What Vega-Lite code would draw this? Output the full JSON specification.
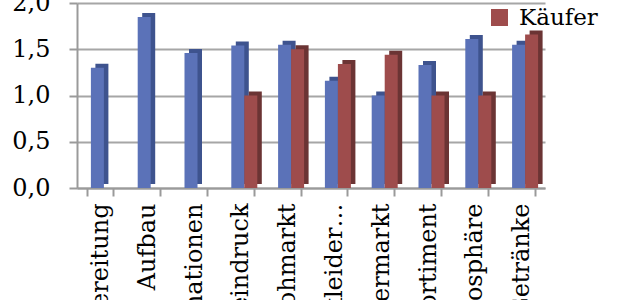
{
  "$schema": "https://vega.github.io/schema/vega-lite/v6.json",
  "width": 468,
  "height": 185,
  "autosize": {"type": "none"},
  "padding": {"left": 77, "top": 3, "right": 98, "bottom": 112},
  "background": "white",
  "config": {"view": {"stroke": null}, "font": "DejaVu Serif"},
  "data": {
    "values": [
      {"k": "Vorbereitung", "g": "Verkäufer", "v": 1.3},
      {"k": "Aufbau", "g": "Verkäufer", "v": 1.85},
      {"k": "Informationen", "g": "Verkäufer", "v": 1.46},
      {"k": "Gesamteindruck", "g": "Verkäufer", "v": 1.54},
      {"k": "Gesamteindruck", "g": "Käufer", "v": 1.0},
      {"k": "Flohmarkt", "g": "Verkäufer", "v": 1.55},
      {"k": "Flohmarkt", "g": "Käufer", "v": 1.5},
      {"k": "Kinderkleider…", "g": "Verkäufer", "v": 1.16},
      {"k": "Kinderkleider…", "g": "Käufer", "v": 1.34},
      {"k": "Supermarkt", "g": "Verkäufer", "v": 1.0},
      {"k": "Supermarkt", "g": "Käufer", "v": 1.44},
      {"k": "Sortiment", "g": "Verkäufer", "v": 1.33},
      {"k": "Sortiment", "g": "Käufer", "v": 1.0},
      {"k": "Atmosphäre", "g": "Verkäufer", "v": 1.61},
      {"k": "Atmosphäre", "g": "Käufer", "v": 1.0},
      {"k": "Getränke", "g": "Verkäufer", "v": 1.55},
      {"k": "Getränke", "g": "Käufer", "v": 1.66}
    ]
  },
  "encoding": {
    "x": {
      "field": "k",
      "type": "nominal",
      "sort": null,
      "title": null,
      "scale": {"paddingInner": 0.444, "paddingOuter": 0.222},
      "axis": {
        "labelAngle": -90,
        "labelFontSize": 24,
        "labelFont": "DejaVu Serif",
        "labelColor": "black",
        "labelLimit": 0,
        "labelPadding": 7,
        "tickBand": "extent",
        "tickSize": 8,
        "tickWidth": 2,
        "tickColor": "#9a9a9a",
        "domainColor": "#9a9a9a",
        "domainWidth": 2,
        "grid": false
      }
    },
    "y": {
      "field": "v",
      "type": "quantitative",
      "title": null,
      "scale": {"domain": [0, 2], "nice": false},
      "axis": {
        "values": [0, 0.5, 1, 1.5, 2],
        "labelExpr": "replace(format(datum.value, '.1f'), '.', ',')",
        "labelFontSize": 24,
        "labelFont": "DejaVu Serif",
        "labelColor": "black",
        "labelPadding": 19,
        "tickSize": 8,
        "tickWidth": 2,
        "tickColor": "#9a9a9a",
        "domainColor": "#9a9a9a",
        "domainWidth": 2,
        "grid": true,
        "gridColor": "#a6a6a6",
        "gridWidth": 2
      }
    }
  },
  "layer": [
    {
      "transform": [{"filter": "datum.g === 'Verkäufer'"}],
      "mark": {"type": "bar", "width": 13, "xOffset": 1.5, "yOffset": -4, "color": "#3e538e"}
    },
    {
      "transform": [{"filter": "datum.g === 'Käufer'"}],
      "mark": {"type": "bar", "width": 13, "xOffset": 14.5, "yOffset": -4, "color": "#6b3434"}
    },
    {
      "transform": [{"filter": "datum.g === 'Verkäufer'"}],
      "mark": {"type": "bar", "width": 13, "xOffset": -3},
      "encoding": {
        "color": {
          "field": "g",
          "type": "nominal",
          "scale": {"domain": ["Verkäufer", "Käufer"], "range": ["#5b72b8", "#9e4c4c"]},
          "legend": {
            "title": null,
            "orient": "none",
            "legendX": 411,
            "legendY": -29,
            "symbolType": "square",
            "symbolSize": 289,
            "symbolStrokeWidth": 0,
            "labelFontSize": 23,
            "labelFont": "DejaVu Serif",
            "labelColor": "black",
            "labelOffset": 8,
            "rowPadding": 8
          }
        }
      }
    },
    {
      "transform": [{"filter": "datum.g === 'Käufer'"}],
      "mark": {"type": "bar", "width": 13, "xOffset": 10},
      "encoding": {
        "color": {
          "field": "g",
          "type": "nominal",
          "scale": {"domain": ["Verkäufer", "Käufer"], "range": ["#5b72b8", "#9e4c4c"]}
        }
      }
    }
  ]
}
